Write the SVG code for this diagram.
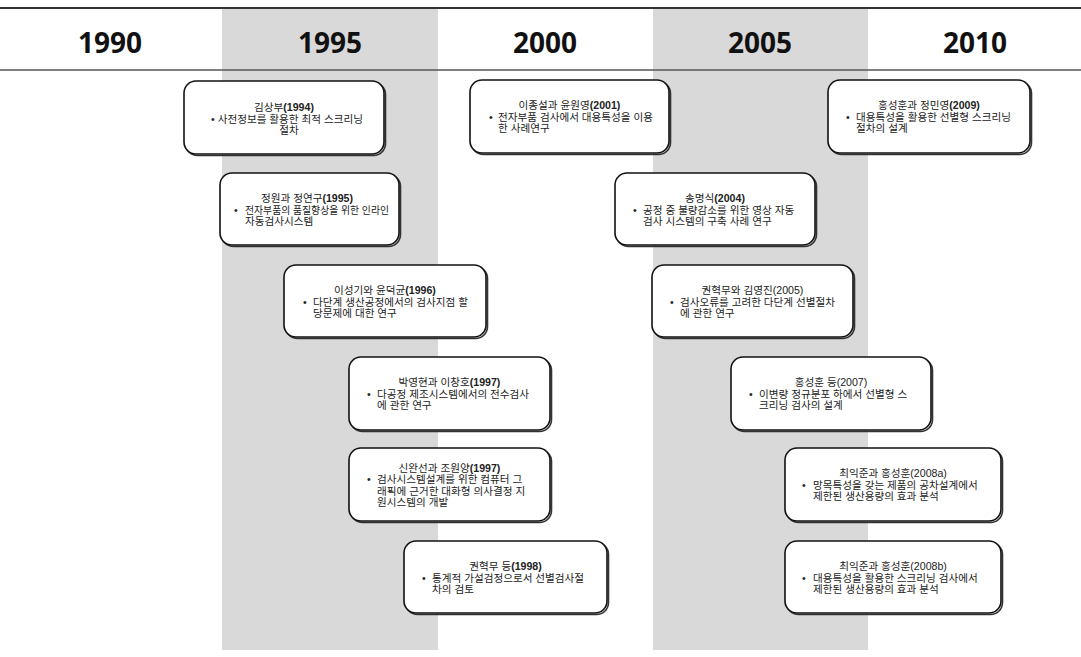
<svg xmlns="http://www.w3.org/2000/svg" width="1081" height="657" viewBox="0 0 1081 657">
<style>
.band{fill:#d9d9d9}
.yr{font-family:"Open Sans","Noto Sans",sans-serif;font-weight:bold;font-size:28px;fill:#111;text-anchor:middle}
.box{fill:#fff;stroke:#111;stroke-width:1.6}
.sh{fill:none;stroke:#333;stroke-width:1.6}
.t{font-family:"Liberation Sans","Noto Sans CJK KR",sans-serif;font-size:10.6px;fill:#222}
.c{text-anchor:middle}
.b{font-weight:bold}
</style>
<rect width="1081" height="657" fill="#fff"/>
<g id="bands">
<rect class="band" x="222" y="8" width="216" height="642"/>
<rect class="band" x="653" y="8" width="215" height="642"/>
</g>
<g id="header">
<line x1="0" y1="8" x2="1081" y2="8" stroke="#333" stroke-width="2"/>
<line x1="0" y1="70" x2="1081" y2="70" stroke="#555" stroke-width="1.5"/>
<text class="yr" x="110" y="53">1990</text>
<text class="yr" x="330" y="53">1995</text>
<text class="yr" x="545" y="53">2000</text>
<text class="yr" x="760" y="53">2005</text>
<text class="yr" x="975" y="53">2010</text>
</g>
<g id="connectors"></g>
<g id="n1994">
<rect class="sh" x="185.5" y="82.5" width="200" height="73" rx="12"/>
<rect class="box" x="184" y="81" width="200" height="73" rx="12"/>
<text class="t c" x="284" y="111">김상부<tspan class="b">(1994)</tspan></text>
<text class="t c" x="287" y="122.5">• 사전정보를 활용한 최적 스크리닝</text>
<text class="t c" x="289" y="134">절차</text>
</g>
<g id="n1995">
<rect class="sh" x="221.5" y="174.5" width="179" height="72" rx="12"/>
<rect class="box" x="220" y="173" width="179" height="72" rx="12"/>
<text class="t c" x="307" y="202">정원과 정연구<tspan class="b">(1995)</tspan></text>
<text class="t" x="234" y="213.5">•</text>
<text class="t" x="245" y="213.5" textLength="144" lengthAdjust="spacingAndGlyphs">전자부품의 품질향상을 위한 인라인</text>
<text class="t" x="245" y="225">자동검사시스템</text>
</g>
<g id="n1996">
<rect class="sh" x="285.5" y="266.5" width="202" height="72" rx="12"/>
<rect class="box" x="284" y="265" width="202" height="72" rx="12"/>
<text class="t c" x="385" y="294">이성기와 윤덕균<tspan class="b">(1996)</tspan></text>
<text class="t" x="303" y="305.5">•</text>
<text class="t" x="313" y="305.5">다단계 생산공정에서의 검사지점 할</text>
<text class="t" x="313" y="317">당문제에 대한 연구</text>
</g>
<g id="n1997a">
<rect class="sh" x="350.5" y="358.5" width="201" height="73" rx="12"/>
<rect class="box" x="349" y="357" width="201" height="73" rx="12"/>
<text class="t c" x="449.5" y="386">박영현과 이창호<tspan class="b">(1997)</tspan></text>
<text class="t" x="367" y="397.5">•</text>
<text class="t" x="377" y="397.5">다공정 제조시스템에서의 전수검사</text>
<text class="t" x="377" y="409">에 관한 연구</text>
</g>
<g id="n1997b">
<rect class="sh" x="350.5" y="449.5" width="201" height="73" rx="12"/>
<rect class="box" x="349" y="448" width="201" height="73" rx="12"/>
<text class="t c" x="449.5" y="471.5">신완선과 조원양<tspan class="b">(1997)</tspan></text>
<text class="t" x="367" y="483">•</text>
<text class="t" x="377" y="483">검사시스템설계를 위한 컴퓨터 그</text>
<text class="t" x="377" y="494.5">래픽에 근거한 대화형 의사결정 지</text>
<text class="t" x="377" y="506">원시스템의 개발</text>
</g>
<g id="n1998">
<rect class="sh" x="405.5" y="542.5" width="203" height="72" rx="12"/>
<rect class="box" x="404" y="541" width="203" height="72" rx="12"/>
<text class="t c" x="505.5" y="570">권혁무 등<tspan class="b">(1998)</tspan></text>
<text class="t" x="422" y="581.5">•</text>
<text class="t" x="432" y="581.5">통계적 가설검정으로서 선별검사절</text>
<text class="t" x="432" y="593">차의 검토</text>
</g>
<g id="n2001">
<rect class="sh" x="471.5" y="81.5" width="199" height="73" rx="12"/>
<rect class="box" x="470" y="80" width="199" height="73" rx="12"/>
<text class="t c" x="569.5" y="109">이종설과 윤원영<tspan class="b">(2001)</tspan></text>
<text class="t" x="489" y="120.5">•</text>
<text class="t" x="498" y="120.5">전자부품 검사에서 대용특성을 이용</text>
<text class="t" x="498" y="132">한 사례연구</text>
</g>
<g id="n2004">
<rect class="sh" x="616.5" y="174.5" width="200" height="72" rx="12"/>
<rect class="box" x="615" y="173" width="200" height="72" rx="12"/>
<text class="t c" x="715" y="202">송명식<tspan class="b">(2004)</tspan></text>
<text class="t" x="633" y="213.5">•</text>
<text class="t" x="643" y="213.5">공정 중 불량감소를 위한 영상 자동</text>
<text class="t" x="643" y="225">검사 시스템의 구축 사례 연구</text>
</g>
<g id="n2005">
<rect class="sh" x="653.5" y="266.5" width="201" height="72" rx="12"/>
<rect class="box" x="652" y="265" width="201" height="72" rx="12"/>
<text class="t c" x="752.5" y="294">권혁무와 김영진(2005)</text>
<text class="t" x="670" y="305.5">•</text>
<text class="t" x="680" y="305.5">검사오류를 고려한 다단계 선별절차</text>
<text class="t" x="680" y="317">에 관한 연구</text>
</g>
<g id="n2007">
<rect class="sh" x="732.5" y="358.5" width="200" height="73" rx="12"/>
<rect class="box" x="731" y="357" width="200" height="73" rx="12"/>
<text class="t c" x="831" y="386">홍성훈 등(2007)</text>
<text class="t" x="749" y="397.5">•</text>
<text class="t" x="759" y="397.5">이변량 정규분포 하에서 선별형 스</text>
<text class="t" x="759" y="409">크리닝 검사의 설계</text>
</g>
<g id="n2008a">
<rect class="sh" x="786.5" y="449.5" width="216" height="73" rx="12"/>
<rect class="box" x="785" y="448" width="216" height="73" rx="12"/>
<text class="t c" x="893" y="477">최익준과 홍성훈(2008a)</text>
<text class="t" x="802" y="488.5">•</text>
<text class="t" x="813" y="488.5">망목특성을 갖는 제품의 공차설계에서</text>
<text class="t" x="813" y="500">제한된 생산용량의 효과 분석</text>
</g>
<g id="n2008b">
<rect class="sh" x="786.5" y="542.5" width="216" height="72" rx="12"/>
<rect class="box" x="785" y="541" width="216" height="72" rx="12"/>
<text class="t c" x="893" y="570">최익준과 홍성훈(2008b)</text>
<text class="t" x="802" y="581.5">•</text>
<text class="t" x="813" y="581.5">대용특성을 활용한 스크리닝 검사에서</text>
<text class="t" x="813" y="593">제한된 생산용량의 효과 분석</text>
</g>
<g id="n2009">
<rect class="sh" x="829.5" y="81.5" width="202" height="73" rx="12"/>
<rect class="box" x="828" y="80" width="202" height="73" rx="12"/>
<text class="t c" x="929" y="109">홍성훈과 정민영<tspan class="b">(2009)</tspan></text>
<text class="t" x="846" y="120.5">•</text>
<text class="t" x="856" y="120.5">대용특성을 활용한 선별형 스크리닝</text>
<text class="t" x="856" y="132">절차의 설계</text>
</g>
</svg>
